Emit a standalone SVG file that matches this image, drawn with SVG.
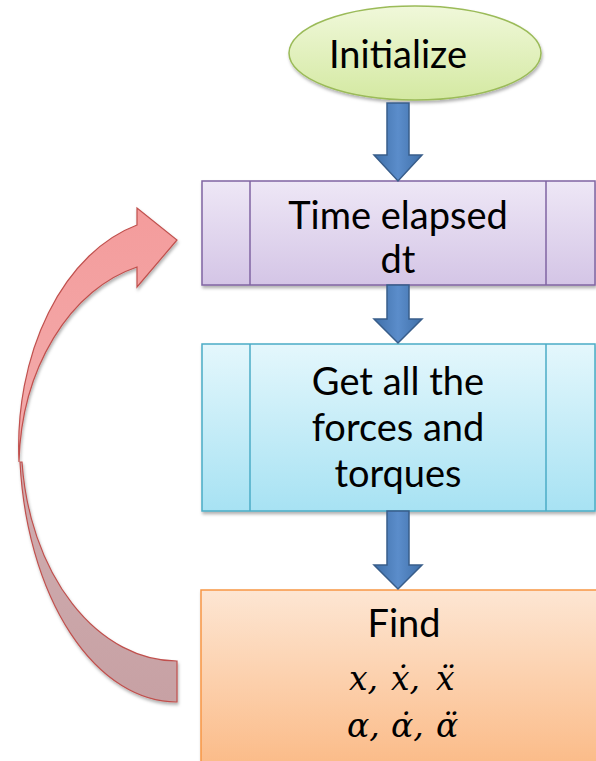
<svg xmlns="http://www.w3.org/2000/svg" width="596" height="761" viewBox="0 0 596 761">
  <defs>
    <linearGradient id="fillInit" x1="0" y1="0" x2="0" y2="1">
      <stop offset="0" stop-color="#F0F8DA"/>
      <stop offset="1" stop-color="#D4E9A2"/>
    </linearGradient>
    <linearGradient id="fillTime" x1="0" y1="0" x2="0" y2="1">
      <stop offset="0" stop-color="#EEE7F6"/>
      <stop offset="1" stop-color="#D4C5E6"/>
    </linearGradient>
    <linearGradient id="fillForces" x1="0" y1="0" x2="0" y2="1">
      <stop offset="0" stop-color="#E4F7FC"/>
      <stop offset="1" stop-color="#A7E2F3"/>
    </linearGradient>
    <linearGradient id="fillFind" x1="0" y1="0" x2="0" y2="1">
      <stop offset="0" stop-color="#FDE6D3"/>
      <stop offset="1" stop-color="#FBBA86"/>
    </linearGradient>
    <linearGradient id="fillFlow" x1="0" y1="0" x2="1" y2="0">
      <stop offset="0" stop-color="#3F6FA8"/>
      <stop offset="0.5" stop-color="#5B8DCB"/>
      <stop offset="1" stop-color="#3F6FA8"/>
    </linearGradient>
    <linearGradient id="fillLoopFront" x1="0" y1="0" x2="0" y2="1">
      <stop offset="0" stop-color="#F49C9C"/>
      <stop offset="1" stop-color="#F2ACAC"/>
    </linearGradient>
    <linearGradient id="fillLoopBack" x1="0" y1="0" x2="0" y2="1">
      <stop offset="0" stop-color="#D0ADB0"/>
      <stop offset="1" stop-color="#C7A1A4"/>
    </linearGradient>
    <filter id="shadow" x="-10%" y="-10%" width="125%" height="130%">
      <feDropShadow dx="1" dy="2.5" stdDeviation="1.6" flood-color="#000" flood-opacity="0.3"/>
    </filter>
  </defs>
  <style>
    .label { font-family: Lato, "Open Sans", sans-serif; font-size: 38px; fill: #000; text-anchor: middle; }
    .math { font-family: "DejaVu Serif", serif; font-style: italic; font-size: 33px; fill: #000; }
    .flow { fill: url(#fillFlow); stroke: #385D8A; stroke-width: 1.5; stroke-linejoin: miter; }
    .divider { fill: none; stroke-width: 1.5; }
  </style>

  <rect width="596" height="761" fill="#FFFFFF"/>

  <!-- start terminal -->
  <g id="node-initialize">
    <ellipse cx="415" cy="53" rx="126" ry="47" fill="url(#fillInit)" stroke="#9BBB59" stroke-width="1.5" filter="url(#shadow)"/>
    <text class="label" x="398" y="68">Initialize</text>
  </g>

  <!-- predefined process: time step -->
  <g id="node-time">
    <rect x="202" y="181" width="393" height="104" fill="url(#fillTime)" stroke="#8064A2" stroke-width="1.5" filter="url(#shadow)"/>
    <path class="divider" stroke="#8064A2" d="M250,181 V285 M546,181 V285"/>
    <text class="label" x="398" y="229">Time elapsed</text>
    <text class="label" x="398" y="273">dt</text>
  </g>

  <!-- predefined process: forces -->
  <g id="node-forces">
    <rect x="202" y="344" width="393" height="167" fill="url(#fillForces)" stroke="#4BACC6" stroke-width="1.5" filter="url(#shadow)"/>
    <path class="divider" stroke="#4BACC6" d="M250,344 V511 M546,344 V511"/>
    <text class="label" x="398" y="395">Get all the</text>
    <text class="label" x="398" y="441">forces and</text>
    <text class="label" x="398" y="487">torques</text>
  </g>

  <!-- process: solve for state -->
  <g id="node-find">
    <rect x="201" y="590" width="400" height="180" fill="url(#fillFind)" stroke="#F79646" stroke-width="1.5" filter="url(#shadow)"/>
    <text class="label" x="404" y="637">Find</text>
    <text class="math" y="690"><tspan x="349">x,</tspan><tspan x="391">ẋ,</tspan><tspan x="436">ẍ</tspan></text>
    <text class="math" y="737"><tspan x="347">α,</tspan><tspan x="391">α̇,</tspan><tspan x="436">α̈</tspan></text>
  </g>

  <g id="connectors">
    <path class="flow" d="M387,103 H409 V155 H422 L398,181 L374,155 H387 Z"/>
    <path class="flow" d="M387,285 H409 V319 H422 L398,343 L374,319 H387 Z"/>
    <path class="flow" d="M387,511 H409 V565 H422 L398,589 L374,565 H387 Z"/>

    <!-- loop back: curved arrow from Find to Time elapsed -->
    <g filter="url(#shadow)" stroke="#C0504D" stroke-width="1.2" stroke-linejoin="miter">
      <path fill="url(#fillLoopBack)" d="M20,462 A157 262 0 0 0 177,702 L177,661 A156 220 0 0 1 22,462 Z"/>
      <path fill="url(#fillLoopFront)" d="M137,225 A158 229 0 0 0 19,462 A156 208 0 0 1 137,267 L137,287 L177,240 L137,208 Z"/>
    </g>
  </g>
</svg>
